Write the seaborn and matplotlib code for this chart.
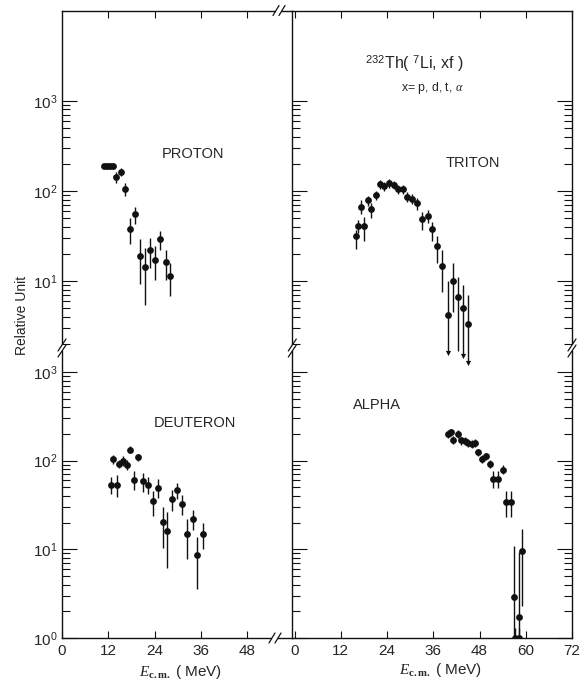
import numpy as np
import pandas as pd
import matplotlib
matplotlib.use("Agg")
import matplotlib.pyplot as plt
import seaborn as sns
from matplotlib.ticker import FixedLocator, NullLocator, LogFormatterSciNotation, NullFormatter
from matplotlib.lines import Line2D
from matplotlib.patches import Rectangle

# ---------------- data ----------------
proton_E = [10.9, 11.7, 12.5, 13.2, 14.0, 15.3, 16.4, 17.6, 18.8, 20.1, 21.6, 22.9, 24.1, 25.5, 26.9, 28.0]
proton_v = [191, 191, 191, 191, 142, 164, 105, 37.8, 55, 19.2, 14.4, 22, 17.4, 29.3, 16.2, 11.4]
proton_s = [15, 15, 15, 15, 19, 16, 18, 12, 12, 10, 9, 8, 7, 7, 6, 4.6]

deut_E = [12.6, 13.1, 14.2, 14.7, 15.7, 16.8, 17.7, 18.7, 19.7, 21.1, 22.4, 23.7, 24.8, 26.1, 27.3,
          28.5, 29.8, 31.1, 32.4, 33.9, 35.1, 36.5]
deut_v = [53.8, 104.5, 53.8, 91.8, 100, 90.2, 133, 61.2, 110, 58.6, 53.8, 35, 49.5, 20.4, 16.2,
          37.2, 46.5, 32.7, 14.8, 22.2, 8.6, 14.8]
deut_s = [12, 12, 15, 10, 12, 12, 12, 15, 10, 14, 12, 11, 12, 10, 10, 10, 10, 8, 7, 5.5, 5, 4.8]

trit_E = [15.9, 16.5, 17.3, 18.1, 19.0, 19.9, 21.2, 22.2, 23.2, 24.5, 25.7, 26.9, 28.1, 29.1, 30.5,
          31.8, 33.1, 34.5, 35.6, 36.9, 38.2, 39.7, 41.2, 42.5, 43.6, 45.1]
trit_v = [32, 41.2, 66.2, 41.2, 78.5, 62.5, 90, 119, 113, 122, 117, 105, 104, 86, 82,
          72.8, 48.8, 52.2, 37.6, 24.4, 14.9, 4.2, 10, 6.7, 5.0, 3.4]
trit_lo = [23, 34, 56, 28, 69, 50, 80, 106, 101, 109, 104, 93, 92, 75, 71,
           62, 37, 44, 28, 16, 7.6, 1.6, 4.6, 1.7, 1.5, 1.25]
trit_hi = [37, 48, 79, 52, 89, 73, 101, 133, 126, 136, 130, 117, 116, 97, 93,
           84, 58, 61, 45, 32, 22, 10, 16, 11, 9.1, 7.1]
trit_arrow = [0, 0, 0, 0, 0, 0, 0, 0, 0, 0, 0, 0, 0, 0, 0, 0, 0, 0, 0, 0, 0, 1, 0, 0, 1, 1]

alpha_E = [39.7, 40.6, 41.1, 42.3, 43.2, 44.2, 45.1, 46.0, 46.8, 47.7, 48.6, 49.7, 50.6, 51.6,
           52.8, 54.0, 54.9, 56.2, 56.9, 57.3, 58.2, 58.2, 59.0]
alpha_v = [200, 210, 172, 200, 169, 167, 160, 155, 160, 125, 105, 112, 91.8, 62.8,
           62.8, 79.3, 34.1, 34.1, 2.9, 1.0, 1.73, 1.0, 9.6]
alpha_s = [20, 20, 18, 20, 17, 17, 16, 15, 16, 12, 10, 11, 9, 14, 14, 9, 11, 11, 8, 0.3, 7.6, 0.3, 7.3]

left_xticks = [0, 12, 24, 36, 48]
right_xticks = [0, 12, 24, 36, 48, 60, 72]

# ---------------- style ----------------
sns.set_style("ticks")
plt.rcParams["font.family"] = ["Liberation Sans", "DejaVu Sans"]
plt.rcParams["mathtext.fontset"] = "custom"
plt.rcParams["mathtext.rm"] = "Liberation Sans"
plt.rcParams["mathtext.it"] = "Liberation Serif:italic"
plt.rcParams["mathtext.bf"] = "Liberation Serif:bold"
plt.rcParams["xtick.direction"] = "in"
plt.rcParams["ytick.direction"] = "in"

W, H = 583, 682
fig = plt.figure(figsize=(W / 100, H / 100), dpi=100)

xl, xm, xr = 62, 292.3, 572
yt, yb_break, yb = 10.5, 348, 638


def frac_rect(x0, y0, x1, y1):
    return [x0 / W, 1 - y1 / H, (x1 - x0) / W, (y1 - y0) / H]


ax_tl = fig.add_axes(frac_rect(xl, yt, xm, yb_break))
ax_tr = fig.add_axes(frac_rect(xm, yt, xr, yb_break))
ax_bl = fig.add_axes(frac_rect(xl, yb_break, xm, yb))
ax_br = fig.add_axes(frac_rect(xm, yb_break, xr, yb))

BLACK = "#111111"


def draw_sym(ax, E, v, s):
    df = pd.DataFrame({"E": E, "v": v, "s": s})
    lo = np.clip(df["v"] - df["s"], 1e-3, None)
    hi = df["v"] + df["s"]
    ax.vlines(df["E"], lo, hi, color=BLACK, lw=1.0, zorder=2)
    sns.scatterplot(data=df, x="E", y="v", ax=ax, color=BLACK, s=24, linewidth=0, zorder=3, legend=False)


draw_sym(ax_tl, proton_E, proton_v, proton_s)
draw_sym(ax_bl, deut_E, deut_v, deut_s)
draw_sym(ax_br, alpha_E, alpha_v, alpha_s)

tdf = pd.DataFrame({"E": trit_E, "v": trit_v, "lo": trit_lo, "hi": trit_hi, "arrow": trit_arrow})
ax_tr.vlines(tdf["E"], tdf["lo"], tdf["hi"], color=BLACK, lw=1.0, zorder=2, clip_on=False)
sns.scatterplot(data=tdf, x="E", y="v", ax=ax_tr, color=BLACK, s=24, linewidth=0, zorder=3, legend=False)
arr = tdf[tdf["arrow"] == 1]
ax_tr.scatter(arr["E"], arr["lo"], marker="v", s=14, color=BLACK, linewidth=0, zorder=3, clip_on=False)

# ---------------- axes formatting ----------------
dec_minor_top = [m * d for d in (1, 10, 100) for m in range(2, 10)]
for ax in (ax_tl, ax_tr, ax_bl, ax_br):
    ax.set_yscale("log")
    ax.set_facecolor("none")
    ax.set_xlabel("")
    ax.set_ylabel("")
    for sp in ax.spines.values():
        sp.set_linewidth(1.0)
        sp.set_color(BLACK)
    ax.xaxis.set_minor_locator(NullLocator())
    ax.yaxis.set_minor_locator(FixedLocator(dec_minor_top))
    ax.yaxis.set_minor_formatter(NullFormatter())
    ax.tick_params(axis="y", which="major", length=11, width=0.8, color=BLACK, labelsize=11)
    ax.tick_params(axis="y", which="minor", length=6, width=0.8, color=BLACK)
    ax.tick_params(axis="x", which="major", length=5, width=0.8, color=BLACK, labelsize=11, pad=4)

for ax in (ax_tl, ax_tr):
    ax.set_ylim(1.82, 1e4)
    ax.yaxis.set_major_locator(FixedLocator([10, 100, 1000]))
    ax.spines["bottom"].set_visible(False)
    ax.tick_params(axis="x", top=True, bottom=False, labelbottom=False, labeltop=False)
for ax in (ax_bl, ax_br):
    ax.set_ylim(1.0, 1865)
    ax.yaxis.set_major_locator(FixedLocator([1, 10, 100, 1000]))
    ax.spines["top"].set_visible(False)
    ax.tick_params(axis="x", top=False, bottom=True, labelbottom=True)

for ax in (ax_tl, ax_bl):
    ax.set_xlim(0, 59.7)
    ax.set_xticks(left_xticks)
    ax.spines["right"].set_visible(False)
    ax.yaxis.set_major_formatter(LogFormatterSciNotation())
    ax.tick_params(axis="y", which="both", left=True, right=False, labelleft=True, pad=3)
for ax in (ax_tr, ax_br):
    ax.set_xlim(-0.6, 72)
    ax.set_xticks(right_xticks)
    ax.tick_params(axis="y", which="both", left=True, right=True, labelleft=False)

ax_tl.set_xticks(left_xticks[1:])

# ---------------- texts ----------------
def ftext(px, py, s, **kw):
    fig.text(px / W, 1 - py / H, s, ha="center", va="center", **kw)

ftext(193, 154, "PROTON", fontsize=10.5)
ftext(473, 163, "TRITON", fontsize=10.5)
ftext(195, 423, "DEUTERON", fontsize=10.5)
ftext(377, 405, "ALPHA", fontsize=10.5)
ftext(415, 63, r"$^{232}$Th( $^{7}$Li, xf )", fontsize=11.5)
ftext(432, 88, r"x= p, d, t, $\alpha$", fontsize=8.8)
ftext(22, 315, "Relative Unit", fontsize=10, rotation=90)
ftext(180, 672, r"$E_{\mathbf{c.m.}}$ ( MeV)", fontsize=11)
ftext(440, 670, r"$E_{\mathbf{c.m.}}$ ( MeV)", fontsize=11)

# ---------------- axis break marks ----------------
def fl(xs, ys, **kw):
    fig.add_artist(Line2D([x / W for x in xs], [1 - y / H for y in ys], color=BLACK, lw=0.9, **kw))

def hbreak(px, py):
    fig.add_artist(Rectangle(((px - 3) / W, 1 - (py + 2) / H), 6 / W, 4 / H,
                             transform=fig.transFigure, facecolor="white", edgecolor="none", zorder=10))
    for dx in (-3, 3):
        fl([px + dx - 3, px + dx + 3], [py + 5, py - 5], zorder=11)

def vbreak(px, py):
    fig.add_artist(Rectangle(((px - 2) / W, 1 - (py + 3) / H), 4 / W, 6 / H,
                             transform=fig.transFigure, facecolor="white", edgecolor="none", zorder=10))
    for dy in (-3, 3):
        fl([px - 4, px + 4], [py + dy + 6, py + dy - 6], zorder=11)

hbreak(279, yt)
hbreak(275, yb)
vbreak(xl, yb_break)
vbreak(xm, yb_break)
vbreak(xr, yb_break)

fig.savefig("out.png", dpi=100)
